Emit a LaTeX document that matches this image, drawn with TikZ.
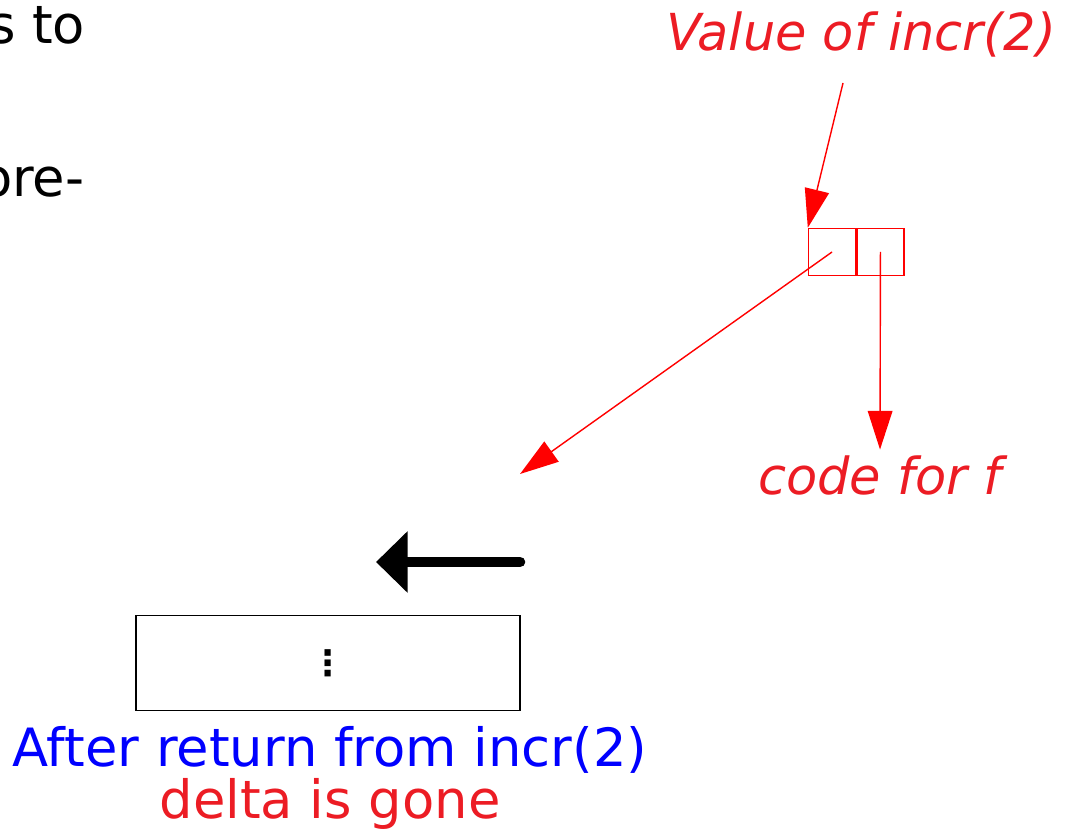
\documentclass[tikz,border=0pt]{standalone}
\usepackage{fontspec}
\setmainfont{DejaVu Sans}
\usepackage{xcolor}
\usetikzlibrary{arrows.meta, positioning}
\definecolor{ptrred}{RGB}{255,0,0}
\definecolor{txtred}{RGB}{236,28,36}
\definecolor{txtblue}{RGB}{0,0,255}

\begin{document}
\begin{tikzpicture}[
  x=0.01cm, y=-0.01cm,
  txt/.style   = {inner sep=0pt, font=\fontsize{15}{17}\selectfont},
  note/.style  = {txt, text=txtred, font=\fontsize{14.5}{17}\selectfont\itshape},
  cell/.style  = {rectangle, draw=ptrred, line width=0.4pt, minimum width=0.47cm,
                  minimum height=0.47cm, inner sep=0pt},
  ptr/.style   = {-{Triangle[length=11pt, width=7pt]}, draw=ptrred, fill=ptrred,
                  line width=0.4pt},
  big/.style   = {-{Triangle[length=9pt, width=17pt]}, line width=3pt,
                  line cap=round}
]
  \useasboundingbox (0,0) rectangle (1071,828);
  \clip (0,0) rectangle (1071,828);

  % cut-off text on the left
  \node[txt, anchor=base east] (cut1) at (86,44) {s to};
  \node[txt, anchor=base east] (cut2) at (85,197) {ore-};

  % closure value
  \node[note] (val) at (861,35) {Value of incr(2)};
  \node[cell] (envcell) at (832,252) {};
  \node[cell, right=0pt of envcell] (codecell) {};
  \node[note] (code) at (880,475) {code for f};
  \coordinate (valtail) at (843,83);
  \coordinate (envend) at (520,474);

  \draw[ptr] (valtail) -- (envcell.north west);
  \draw[ptr] (envcell.center) -- (envend);
  \draw[ptr] (codecell.center) -- ([yshift=0.05cm]code.north);

  % stack after the return
  \coordinate (sptail) at (520,562);
  \coordinate (sphead) at (376,562);
  \draw[big] (sptail) -- (sphead);
  \node[rectangle, draw, line width=0.5pt, minimum width=3.84cm,
        minimum height=0.95cm, font=\bfseries] (frame) at (328,663) {⋮};
  \node[txt, text=txtblue] (after) at (330,750) {After return from incr(2)};
  \node[txt, text=txtred, below=0.03cm of after] (gone) {delta is gone};
\end{tikzpicture}
\end{document}
